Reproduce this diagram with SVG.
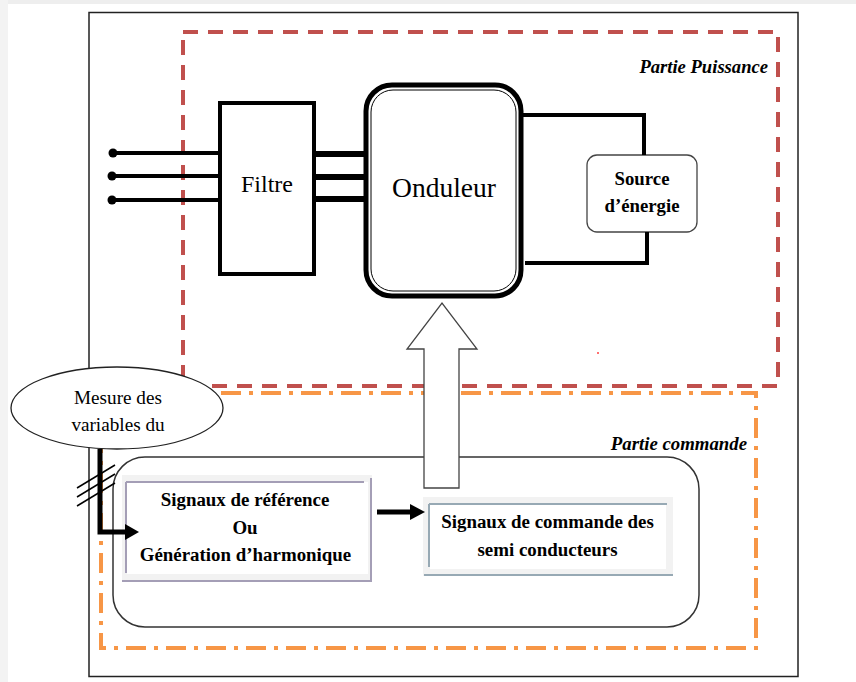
<svg xmlns="http://www.w3.org/2000/svg" width="856" height="682" viewBox="0 0 856 682">
<rect width="856" height="682" fill="#fff"/>
<rect x="0" y="0" width="856" height="4" fill="#eeeeee"/>
<rect x="0" y="0" width="8" height="682" fill="#f3f3f3"/>
<rect x="89" y="12.5" width="709" height="664" fill="#fff" stroke="#222" stroke-width="1.5"/>

<g id="zone-puissance">
<rect x="183" y="32" width="595" height="354" fill="none" stroke="#c0504d" stroke-width="4" stroke-dasharray="15 10"/>
<text x="768" y="73" font-size="18.6" text-anchor="end" font-family="Liberation Serif" font-style="italic" font-weight="bold">Partie Puissance</text>
<circle cx="598" cy="353" r="1" fill="#ff4040"/>
</g>
<g id="zone-commande">
<rect x="101" y="393" width="655" height="255" fill="none" stroke="#f79646" stroke-width="4" stroke-dasharray="20 8 4 8"/>
<text x="747" y="450" font-size="18.8" text-anchor="end" font-family="Liberation Serif" font-style="italic" font-weight="bold">Partie commande</text>
<rect x="113" y="457" width="586" height="170" rx="32" fill="none" stroke="#333" stroke-width="1.5"/>
</g>

<g id="filtre">
<rect x="220" y="103" width="94" height="171" fill="#fff" stroke="#000" stroke-width="4"/>
<text x="267" y="192" font-size="24" text-anchor="middle" font-family="Liberation Serif">Filtre</text>
</g>

<g id="onduleur">
<rect x="366" y="85" width="155" height="211" rx="26" fill="#fff" stroke="#000" stroke-width="5"/>
<rect x="371" y="90" width="145" height="201" rx="22" fill="none" stroke="#000" stroke-width="1"/>
<text x="444" y="197" font-size="27.5" text-anchor="middle" font-family="Liberation Serif">Onduleur</text>
</g>

<g id="source">
<rect x="587" y="155" width="110" height="77" rx="10" fill="#fff" stroke="#444" stroke-width="1.3"/>
<g font-size="18.8" text-anchor="middle" font-family="Liberation Serif" font-weight="bold">
<text x="642" y="185">Source</text>
<text x="642" y="212">d’énergie</text>
</g>
</g>

<g id="mesure">
<ellipse cx="117" cy="408" rx="106" ry="41" fill="#fff" stroke="#222" stroke-width="1.3"/>
<g font-size="19.2" text-anchor="middle" font-family="Liberation Serif">
<text x="118" y="404">Mesure des</text>
<text x="118" y="431">variables du</text>
</g>
</g>

<g id="signaux-reference">
<rect x="122" y="475" width="250" height="107" fill="#f2f2f2"/>
<rect x="127" y="482" width="241" height="92" fill="#fff"/>
<g stroke="#a49eb6" stroke-width="2" fill="none">
<line x1="126" y1="482" x2="364" y2="482"/>
<line x1="126" y1="482" x2="126" y2="573"/>
<line x1="371" y1="478" x2="371" y2="582"/>
<line x1="122" y1="581" x2="372" y2="581"/>
</g>
<g font-size="18.9" text-anchor="middle" font-family="Liberation Serif" font-weight="bold">
<text x="245" y="506">Signaux de référence</text>
<text x="245" y="534">Ou</text>
<text x="245.5" y="561">Génération d’harmonique</text>
</g>
</g>

<g id="signaux-commande">
<rect x="423" y="497" width="250" height="79" fill="#f2f2f2"/>
<rect x="430" y="505" width="236" height="64" fill="#fff"/>
<g stroke="#97a9b4" stroke-width="2" fill="none">
<line x1="429" y1="504" x2="667" y2="504"/>
<line x1="429" y1="504" x2="429" y2="567"/>
<line x1="424" y1="575" x2="673" y2="575"/>
</g>
<g font-size="18.9" text-anchor="middle" font-family="Liberation Serif" font-weight="bold">
<text x="547.5" y="528">Signaux de commande des</text>
<text x="547.5" y="556">semi conducteurs</text>
</g>
</g>

<g id="connectors">
<g stroke="#000" fill="none" stroke-width="4">
<line x1="113" y1="153" x2="220" y2="153"/>
<line x1="113" y1="176" x2="220" y2="176"/>
<line x1="113" y1="200" x2="220" y2="200"/>
</g>
<circle cx="113" cy="153" r="4.5"/>
<circle cx="112" cy="176" r="4.5"/>
<circle cx="112" cy="200" r="4.5"/>
<g stroke="#000" fill="none" stroke-width="6">
<line x1="316" y1="154" x2="366" y2="154"/>
<line x1="316" y1="177" x2="366" y2="177"/>
<line x1="316" y1="199" x2="366" y2="199"/>
</g>
<g stroke="#000" fill="none" stroke-width="4">
<polyline points="523,115 644,115 644,155"/>
<polyline points="647,232 647,263 525,263"/>
</g>
<polygon points="424,488 459,488 459,349 477,349 442,303 407,349 424,349" fill="#fff" stroke="#444" stroke-width="1.3"/>
<g stroke="#000" fill="none" stroke-width="5">
<polyline points="100,449 100,532 126,532"/>
<line x1="377" y1="512" x2="411" y2="512"/>
</g>
<polygon points="125,524 139,532 125,540" fill="#000"/>
<polygon points="410,504 425,512 410,520" fill="#000"/>
<g stroke="#000" stroke-width="1.5">
<line x1="77" y1="488" x2="115" y2="465"/>
<line x1="77" y1="497" x2="115" y2="474"/>
<line x1="77" y1="506" x2="115" y2="483"/>
</g>
</g>
</svg>
